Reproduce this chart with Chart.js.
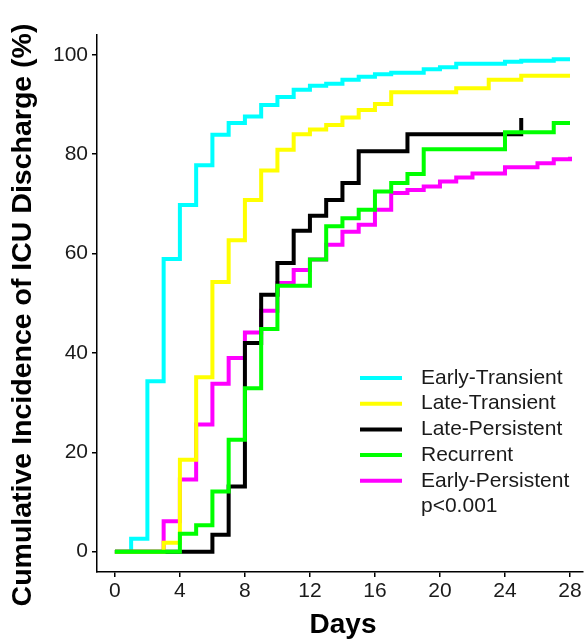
<!DOCTYPE html>
<html>
<head>
<meta charset="utf-8">
<script src="https://cdn.jsdelivr.net/npm/chart.js@4.4.1/dist/chart.umd.min.js"></script>
<style>
  html, body { margin: 0; padding: 0; background: #fff; }
  #wrap { width: 586px; height: 642px; }
</style>
</head>
<body>
<div id="wrap"><canvas id="kmChart" width="586" height="642"></canvas></div>
<script>
// Cumulative incidence of ICU discharge (day of step, % after step)
const groupNames = ["Early-Transient", "Late-Transient", "Late-Persistent", "Recurrent", "Early-Persistent"];
const groupColors = ["#00ffff", "#ffff00", "#000000", "#00ff00", "#ff00ff"];

const earlyTransientDays = [0, 1, 2, 3, 4, 5, 6, 7, 8, 9, 10, 11, 12, 13, 14, 15, 16, 17, 19, 20, 21, 24, 25, 27, 28];
const earlyTransientPct  = [0, 2.6, 34.3, 58.9, 69.8, 77.8, 83.9, 86.3, 87.6, 89.9, 91.5, 93.0, 93.8, 94.2, 95.0, 95.6, 96.1, 96.4, 97.1, 97.5, 98.2, 98.6, 98.8, 99.1, 99.1];

const lateTransientDays = [0, 3, 4, 5, 6, 7, 8, 9, 10, 11, 12, 13, 14, 15, 16, 17, 21, 23, 25, 28];
const lateTransientPct  = [0, 1.8, 18.5, 35.1, 54.3, 62.7, 70.8, 76.7, 80.9, 84.0, 85.0, 85.9, 87.4, 88.9, 90.1, 92.5, 93.3, 95.0, 95.8, 95.8];

const latePersistentDays = [0, 6, 7, 8, 9, 10, 11, 12, 13, 14, 15, 18, 25];
const latePersistentPct  = [0, 3.4, 13.1, 42.0, 51.7, 58.1, 64.6, 67.6, 70.8, 74.2, 80.6, 84.0, 87.3];

const recurrentDays = [0, 4, 5, 6, 7, 8, 9, 10, 12, 13, 14, 15, 16, 17, 18, 19, 24, 27, 28];
const recurrentPct  = [0, 3.6, 5.3, 12.1, 22.5, 32.9, 44.8, 53.5, 58.8, 65.5, 67.1, 68.8, 72.5, 74.2, 76.0, 81.0, 84.4, 86.3, 86.3];

const earlyPersistentDays = [0, 3, 4, 5, 6, 7, 8, 9, 10, 11, 12, 13, 14, 15, 16, 17, 18, 19, 20, 21, 22, 24, 26, 27, 28];
const earlyPersistentPct  = [0, 6.1, 14.5, 25.6, 33.8, 39.0, 44.1, 48.5, 54.1, 56.7, 58.8, 61.8, 64.4, 65.8, 68.8, 72.2, 72.8, 73.5, 74.5, 75.3, 76.1, 77.4, 78.2, 79.0, 79.5];

const xTicks = [0, 4, 8, 12, 16, 20, 24, 28];
const yTicks = [0, 20, 40, 60, 80, 100];
const xTitle = "Days";
const yTitle = "Cumulative Incidence of ICU Discharge (%)";
const pValueText = "p<0.001";

const seriesDays = [earlyTransientDays, lateTransientDays, latePersistentDays, recurrentDays, earlyPersistentDays];
const seriesPct = [earlyTransientPct, lateTransientPct, latePersistentPct, recurrentPct, earlyPersistentPct];
// drawing order: lower number ends up on top (green over yellow over black over magenta over cyan)
const drawOrder = [4, 1, 2, 0, 3];

const FONT = '"Liberation Sans", Arial, sans-serif';

const datasets = groupNames.map((name, i) => ({
    label: name,
    data: seriesDays[i].map((d, j) => ({ x: d, y: seriesPct[i][j] })),
    borderColor: groupColors[i],
    backgroundColor: groupColors[i],
    borderWidth: 4,
    stepped: true,
    pointRadius: 0,
    fill: false,
    order: drawOrder[i]
}));

// axis titles, in-panel legend and p-value
const annotate = {
    id: 'annotate',
    afterDraw(chart) {
        const ctx = chart.ctx;
        const area = chart.chartArea;
        ctx.save();
        ctx.fillStyle = '#000';
        ctx.textAlign = 'center';
        ctx.textBaseline = 'middle';
        ctx.font = 'bold 28px ' + FONT;
        ctx.fillText(xTitle, (area.left + area.right) / 2 + 3, 625);

        ctx.save();
        ctx.translate(23, 315);
        ctx.rotate(-Math.PI / 2);
        ctx.font = 'bold 28.5px ' + FONT;
        ctx.fillText(yTitle, 0, 0);
        ctx.restore();

        // legend
        const rowY = 378;
        const rowStep = 25.7;
        ctx.textAlign = 'left';
        ctx.font = '21px ' + FONT;
        groupNames.forEach((name, i) => {
            const y = rowY + i * rowStep;
            ctx.strokeStyle = groupColors[i];
            ctx.lineWidth = 4;
            ctx.beginPath();
            ctx.moveTo(360, y);
            ctx.lineTo(402, y);
            ctx.stroke();
            ctx.fillStyle = '#1a1a1a';
            ctx.fillText(name, 421, y);
        });
        ctx.fillText(pValueText, 421, rowY + 5 * rowStep);
        ctx.restore();
    }
};

new Chart(document.getElementById('kmChart'), {
    type: 'line',
    data: { datasets: datasets },
    options: {
        responsive: false,
        animation: false,
        devicePixelRatio: 1,
        layout: { padding: { top: 35, right: 3, left: 0, bottom: 0 } },
        plugins: {
            legend: { display: false },
            tooltip: { enabled: false }
        },
        scales: {
            x: {
                type: 'linear',
                min: -1.1,
                max: 28.8,
                afterBuildTicks: s => { s.ticks = xTicks.map(v => ({ value: v })); },
                afterFit: s => { s.height = 70; },
                grid: { drawOnChartArea: false, drawTicks: true, tickLength: 5, color: '#000', lineWidth: 1.5 },
                border: { display: true, color: '#000', width: 1.5 },
                ticks: { color: '#1a1a1a', font: { size: 21, family: FONT }, padding: 2, maxRotation: 0 }
            },
            y: {
                type: 'linear',
                min: -4.1,
                max: 104,
                afterBuildTicks: s => { s.ticks = yTicks.map(v => ({ value: v })); },
                afterFit: s => { s.width = 97; },
                grid: { drawOnChartArea: false, drawTicks: true, tickLength: 5, color: '#000', lineWidth: 1.5 },
                border: { display: true, color: '#000', width: 1.5 },
                ticks: { color: '#1a1a1a', font: { size: 21, family: FONT }, padding: 4 }
            }
        }
    },
    plugins: [annotate]
});
</script>
</body>
</html>
